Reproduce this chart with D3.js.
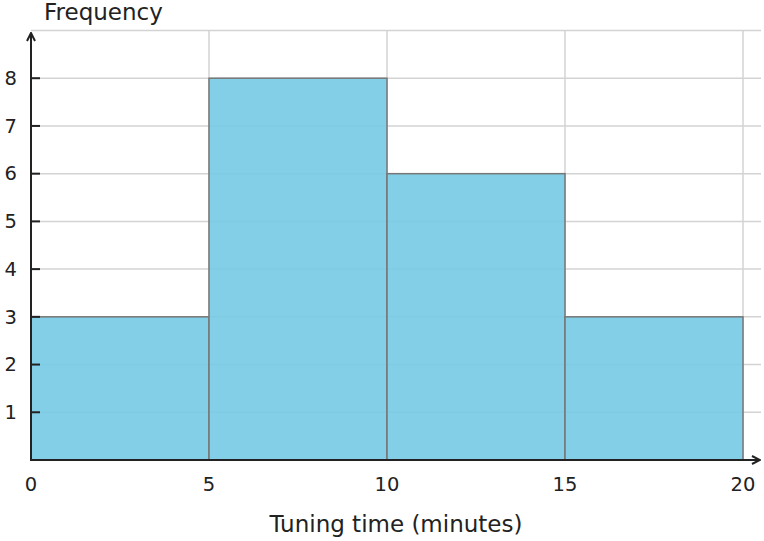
<!DOCTYPE html>
<html><head><meta charset="utf-8">
<script src="https://cdn.jsdelivr.net/npm/d3@7"></script>
<style>body{margin:0;background:#fff}svg{display:block;font-family:"DejaVu Sans",sans-serif}</style>
</head><body><svg id="c" width="764" height="541"></svg>
<script>
const binStarts = [0, 5, 10, 15];
const binEnds = [5, 10, 15, 20];
const frequencies = [3, 8, 6, 3];
const xTicks = [0, 5, 10, 15, 20];
const yTicks = [1, 2, 3, 4, 5, 6, 7, 8];
const yGrid = [1, 2, 3, 4, 5, 6, 7, 8, 9];

const svg = d3.select("#c");
const x = d3.scaleLinear().domain([0, 20]).range([31, 743]);
const y = d3.scaleLinear().domain([0, 9]).range([460, 30.5]);
const xRight = 761;

// grid
svg.append("g").selectAll("line").data(yGrid).join("line")
  .attr("x1", 31).attr("x2", xRight).attr("y1", d => y(d)).attr("y2", d => y(d))
  .attr("stroke", "#d3d3d3").attr("stroke-width", 1.5);
svg.append("g").selectAll("line").data(xTicks.slice(1)).join("line")
  .attr("x1", d => x(d)).attr("x2", d => x(d)).attr("y1", y(9)).attr("y2", y(0))
  .attr("stroke", "#d3d3d3").attr("stroke-width", 1.5);

// bars
svg.append("g").selectAll("rect").data(frequencies).join("rect")
  .attr("x", (d, i) => x(binStarts[i]))
  .attr("width", (d, i) => x(binEnds[i]) - x(binStarts[i]))
  .attr("y", d => y(d)).attr("height", d => y(0) - y(d))
  .attr("fill", "rgb(118,202,229)").attr("fill-opacity", 0.9)
  .attr("stroke", "#777").attr("stroke-width", 1.5);

// y tick marks
svg.append("g").selectAll("line").data(yTicks).join("line")
  .attr("x1", 31).attr("x2", 40).attr("y1", d => y(d)).attr("y2", d => y(d))
  .attr("stroke", "#222").attr("stroke-width", 2);

// axes
svg.append("defs").append("marker").attr("id", "ar").attr("viewBox", "0 0 10 10")
  .attr("refX", 9).attr("refY", 5).attr("markerWidth", 10).attr("markerHeight", 10)
  .attr("markerUnits", "userSpaceOnUse").attr("orient", "auto")
  .append("path").attr("d", "M1,1 L9,5 L1,9").attr("fill", "none").attr("stroke", "#222").attr("stroke-width", 2);
svg.append("line").attr("x1", 31).attr("x2", 31).attr("y1", 461).attr("y2", 33)
  .attr("stroke", "#222").attr("stroke-width", 2).attr("marker-end", "url(#ar)");
svg.append("line").attr("x1", 30).attr("x2", 760).attr("y1", 460).attr("y2", 460)
  .attr("stroke", "#222").attr("stroke-width", 2).attr("marker-end", "url(#ar)");

// labels
svg.append("g").selectAll("text").data(yTicks).join("text")
  .attr("x", 17).attr("y", d => y(d)).attr("dy", "0.35em").attr("text-anchor", "end")
  .attr("font-size", 19.5).attr("fill", "#222").text(d => d);
svg.append("g").selectAll("text").data(xTicks).join("text")
  .attr("x", d => x(d)).attr("y", 491).attr("text-anchor", "middle")
  .attr("font-size", 19.5).attr("fill", "#222").text(d => d);
svg.append("text").attr("x", 44).attr("y", 20).attr("font-size", 23).attr("fill", "#222").text("Frequency");
svg.append("text").attr("x", 396).attr("y", 532).attr("text-anchor", "middle")
  .attr("font-size", 23).attr("fill", "#222").text("Tuning time (minutes)");
</script></body></html>
